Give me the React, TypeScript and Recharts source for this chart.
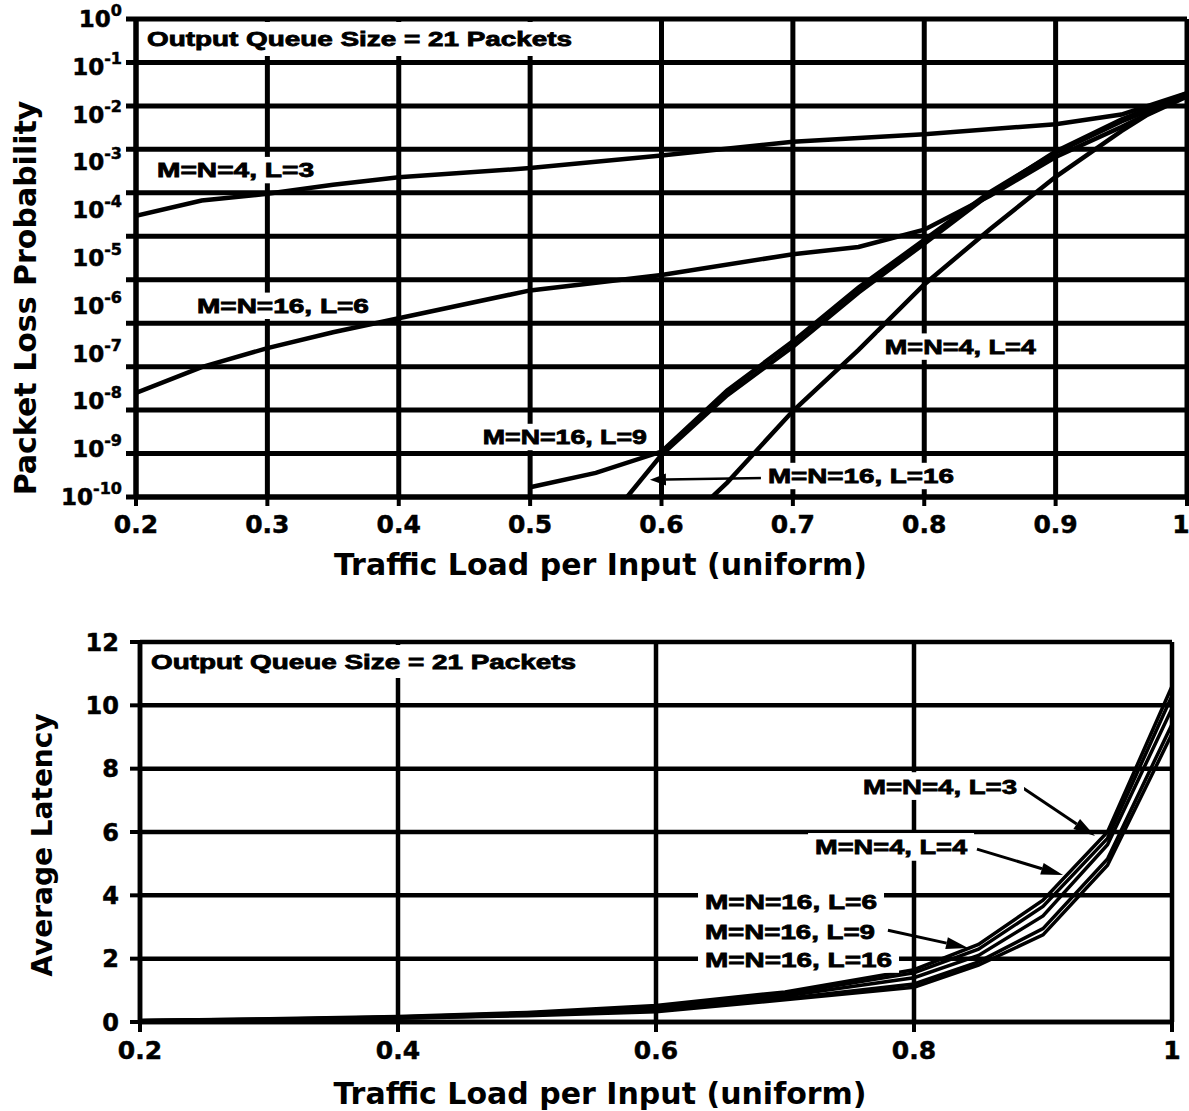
import React from 'react'
import { LineChart, Line, XAxis, YAxis, CartesianGrid, ReferenceDot, ReferenceLine } from 'recharts'

const topLoadTicks = [0.2, 0.3, 0.4, 0.5, 0.6, 0.7, 0.8, 0.9, 1]
const bottomLoadTicks = [0.2, 0.4, 0.6, 0.8, 1]
const lossTicks = [1, 1e-1, 1e-2, 1e-3, 1e-4, 1e-5, 1e-6, 1e-7, 1e-8, 1e-9, 1e-10]
const lossGridRows = [0, 1, 2, 3, 4, 5, 6, 7, 8, 9, 10, 11]
const latencyTicks = [0, 2, 4, 6, 8, 10, 12]

// packet loss probability (top panel)
const loss4x3Load = [0.2, 0.25, 0.3, 0.35, 0.4, 0.5, 0.6, 0.7, 0.8, 0.9, 0.95, 1]
const loss4x3 = [7.6e-5, 1.6e-4, 2.2e-4, 3.4e-4, 4.9e-4, 7.6e-4, 1.4e-3, 2.7e-3, 3.9e-3, 6.3e-3, 1.0e-2, 2.8e-2]
const loss16x6Load = [0.2, 0.25, 0.3, 0.35, 0.4, 0.5, 0.6, 0.7, 0.75, 0.8, 0.85, 0.9, 0.95, 1]
const loss16x6 = [1.5e-8, 5.2e-8, 1.3e-7, 2.8e-7, 5.5e-7, 2.1e-6, 4.4e-6, 1.2e-5, 1.7e-5, 3.9e-5, 2.0e-4, 1.3e-3, 5.5e-3, 2.6e-2]
const loss16x9Load = [0.5, 0.55, 0.6, 0.65, 0.7, 0.75, 0.8, 0.85, 0.9, 0.95, 1]
const loss16x9 = [1.6e-10, 3.2e-10, 8.9e-10, 1.7e-8, 1.8e-7, 2.4e-6, 2.4e-5, 2.4e-4, 1.6e-3, 7.2e-3, 2.6e-2]
const loss16x16Load = [0.55, 0.6, 0.65, 0.7, 0.75, 0.8, 0.85, 0.9, 0.95, 1]
const loss16x16 = [1.6e-11, 7.6e-10, 1.35e-8, 1.4e-7, 1.9e-6, 2.0e-5, 2.2e-4, 1.7e-3, 7.9e-3, 2.8e-2]
const loss4x4Load = [0.6, 0.65, 0.7, 0.75, 0.8, 0.85, 0.9, 0.95, 0.97, 1]
const loss4x4 = [1.0e-11, 2.0e-10, 6.3e-9, 1.2e-7, 2.8e-6, 4.0e-5, 5.0e-4, 4.5e-3, 1.0e-2, 2.4e-2]

// average latency (bottom panel)
const latencyLoad = [0.2, 0.3, 0.4, 0.5, 0.6, 0.7, 0.8, 0.85, 0.9, 0.95, 1]
const latency4x3 = [0.05, 0.1, 0.17, 0.3, 0.52, 0.95, 1.65, 2.45, 3.85, 6.0, 10.6]
const latency4x4 = [0.05, 0.09, 0.16, 0.28, 0.48, 0.88, 1.55, 2.3, 3.65, 5.8, 10.3]
const latency16x6 = [0.04, 0.08, 0.15, 0.26, 0.44, 0.82, 1.4, 2.1, 3.35, 5.6, 9.9]
const latency16x9 = [0.04, 0.07, 0.13, 0.22, 0.36, 0.74, 1.2, 1.9, 2.95, 5.15, 9.4]
const latency16x16 = [0.03, 0.06, 0.12, 0.2, 0.32, 0.7, 1.1, 1.8, 2.75, 4.95, 9.1]

const toPoints = (xs: number[], vs: number[]) => xs.map((x, i) => ({ x, v: vs[i] }))

const lossSeries = [
  { name: 'M=N=4, L=3', points: toPoints(loss4x3Load, loss4x3) },
  { name: 'M=N=16, L=6', points: toPoints(loss16x6Load, loss16x6) },
  { name: 'M=N=16, L=9', points: toPoints(loss16x9Load, loss16x9) },
  { name: 'M=N=16, L=16', points: toPoints(loss16x16Load, loss16x16) },
  { name: 'M=N=4, L=4', points: toPoints(loss4x4Load, loss4x4) },
]

const latencySeries = [
  { name: 'M=N=4, L=3', points: toPoints(latencyLoad, latency4x3) },
  { name: 'M=N=4, L=4', points: toPoints(latencyLoad, latency4x4) },
  { name: 'M=N=16, L=6', points: toPoints(latencyLoad, latency16x6) },
  { name: 'M=N=16, L=9', points: toPoints(latencyLoad, latency16x9) },
  { name: 'M=N=16, L=16', points: toPoints(latencyLoad, latency16x16) },
]

// curve labels, anchored at the left/middle of the text in data units
const lossNotes = [
  { text: 'M=N=4, L=3', x: 0.216, y: 6.9e-4, w: 157 },
  { text: 'M=N=16, L=6', x: 0.2464, y: 1e-6, w: 172 },
  { text: 'M=N=4, L=4', x: 0.77, y: 1.4e-7, w: 151 },
  { text: 'M=N=16, L=9', x: 0.464, y: 1.8e-9, w: 164 },
  { text: 'M=N=16, L=16', x: 0.681, y: 2.75e-10, w: 186 },
]
const lossArrows = [{ x1: 0.6795, y1: 2.5e-10, x2: 0.5912, y2: 2.3e-10 }]

const latencyNotes = [
  { text: 'M=N=4, L=3', x: 0.7605, y: 7.45, w: 154 },
  { text: 'M=N=4, L=4', x: 0.7233, y: 5.53, w: 152 },
  { text: 'M=N=16, L=6', x: 0.638, y: 3.82, w: 172 },
  { text: 'M=N=16, L=9', x: 0.638, y: 2.87, w: 170 },
  { text: 'M=N=16, L=16', x: 0.638, y: 1.99, w: 187 },
]
const latencyArrows = [
  { x1: 0.8845, y1: 7.39, x2: 0.9403, y2: 5.87 },
  { x1: 0.8488, y1: 5.46, x2: 0.9155, y2: 4.64 },
  { x1: 0.7798, y1: 2.9, x2: 0.8419, y2: 2.34 },
]

const AXIS_FONT = '"DejaVu Sans", Verdana, sans-serif'
const NOTE_FONT = '"Liberation Sans", Arial, sans-serif'

const fmtLoad = (v: number) => (v === 1 ? '1' : v.toFixed(1))

function LoadTick({ x, y, payload, size, endShift = 0 }: any) {
  const shift = payload.value === 1 ? endShift : 0
  return (
    <text x={x + shift} y={y} dy={size * 0.74} textAnchor="middle" fontFamily={AXIS_FONT} fontWeight="bold"
      fontSize={size} fill="#000" stroke="#000" strokeWidth={0.5}>
      {fmtLoad(payload.value)}
    </text>
  )
}

function PowerTick({ x, y, payload }: any) {
  const exp = Math.round(Math.log10(payload.value))
  return (
    <text x={x} y={y} dy={8} textAnchor="end" fontFamily={AXIS_FONT} fontWeight="bold" fontSize={23} fill="#000"
      stroke="#000" strokeWidth={0.5}>
      <tspan>10</tspan>
      <tspan dy={-11} fontSize={16}>{exp === 0 ? '0' : `-${-exp}`}</tspan>
    </text>
  )
}

function AxisTitle({ viewBox, text, dx = 0, dy = 0, vertical = false, size = 30 }: any) {
  const cx = viewBox.x + viewBox.width / 2 + dx
  const cy = viewBox.y + viewBox.height / 2 + dy
  return (
    <text
      x={cx}
      y={cy}
      transform={vertical ? `rotate(-90 ${cx} ${cy})` : undefined}
      textAnchor="middle"
      dominantBaseline="central"
      fontFamily={AXIS_FONT}
      fontWeight="bold"
      fontSize={size}
      fill="#000"
    >
      {text}
    </text>
  )
}

function Note({ viewBox, text, width, size }: any) {
  const { x, y } = viewBox
  return (
    <g>
      <rect x={x - 7} y={y - size * 0.66} width={width + 14} height={size * 1.32} fill="#fff" />
      <text x={x} y={y} dy={size * 0.36} fontFamily={NOTE_FONT} fontWeight={900} fontSize={size}
        textLength={width} lengthAdjust="spacingAndGlyphs" fill="#000" stroke="#000" strokeWidth={0.8}>
        {text}
      </text>
    </g>
  )
}

function QueueTitle({ viewBox, boxW, boxH }: any) {
  const { x, y } = viewBox
  return (
    <g>
      <rect x={x + 3} y={y + 3} width={boxW} height={boxH} fill="#fff" />
      <text x={x + 11} y={y + 3 + boxH / 2} dy={7} fontFamily={NOTE_FONT} fontWeight={900} fontSize={20}
        textLength={425} lengthAdjust="spacingAndGlyphs" fill="#000" stroke="#000" strokeWidth={0.8}>
        Output Queue Size = 21 Packets
      </text>
    </g>
  )
}

const arrowShape = (head: number, half: number, w: number) => (p: any) => {
  const { x1, y1, x2, y2 } = p
  const a = Math.atan2(y2 - y1, x2 - x1)
  const bx = x2 - head * Math.cos(a)
  const by = y2 - head * Math.sin(a)
  const pts = `${x2},${y2} ${bx - half * Math.sin(a)},${by + half * Math.cos(a)} ${bx + half * Math.sin(a)},${by - half * Math.cos(a)}`
  return (
    <g>
      <line x1={x1} y1={y1} x2={bx} y2={by} stroke="#000" strokeWidth={w} />
      <polygon points={pts} fill="#000" />
    </g>
  )
}

// the loss panel has 12 evenly spaced rows, with short stubs left of the axis
const lossRowCoords = ({ offset }: any) =>
  lossGridRows.map((i) => offset.top + (offset.height * i) / (lossGridRows.length - 1))

const lossRowLine = (p: any) => (
  <line key={`row-${p.index}`} x1={p.x1 - 10} y1={p.y1} x2={p.x2} y2={p.y2} stroke="#000" strokeWidth={5} />
)

const blackLine = (w: number) => ({ stroke: '#000', strokeWidth: w })
const tickFont = (size: number) => ({
  fill: '#000', stroke: '#000', strokeWidth: 0.5, fontSize: size, fontWeight: 'bold', fontFamily: AXIS_FONT,
})

function LossChart() {
  return (
    <LineChart width={1189} height={600} margin={{ top: 19, right: 2, bottom: 0, left: 0 }}>
      <CartesianGrid stroke="#000" strokeWidth={5} horizontal={lossRowLine}
        horizontalCoordinatesGenerator={lossRowCoords} />
      <XAxis dataKey="x" type="number" domain={[0.2, 1]} ticks={topLoadTicks} interval={0} allowDataOverflow
        height={103} axisLine={blackLine(5)} tickLine={blackLine(4)} tickSize={9} tickMargin={8}
        tick={<LoadTick size={25} endShift={-6} />}
        label={<AxisTitle text="Traffic Load per Input (uniform)" dx={-61} dy={16} />} />
      <YAxis type="number" scale="log" domain={[1e-10, 1]} allowDataOverflow ticks={lossTicks} interval={0}
        width={136} axisLine={blackLine(5)} tickLine={false} tickSize={8} tickMargin={6} tick={<PowerTick />}
        label={<AxisTitle text="Packet Loss Probability" vertical dx={-43} dy={40} />} />
      <ReferenceDot x={0.2} y={1} r={0} fill="none" stroke="none" ifOverflow="visible"
        label={<QueueTitle boxW={440} boxH={34} />} />
      {lossSeries.map((s) => (
        <Line key={s.name} data={s.points} dataKey="v" name={s.name} type="linear" stroke="#000" strokeWidth={4.5}
          dot={false} activeDot={false} isAnimationActive={false} />
      ))}
      {lossArrows.map((a, i) => (
        <ReferenceLine key={i} segment={[{ x: a.x1, y: a.y1 }, { x: a.x2, y: a.y2 }]} ifOverflow="visible"
          shape={arrowShape(16, 6, 2.5)} />
      ))}
      {lossNotes.map((n) => (
        <ReferenceDot key={n.text} x={n.x} y={n.y} r={0} fill="none" stroke="none" ifOverflow="visible"
          label={<Note text={n.text} width={n.w} size={20} />} />
      ))}
    </LineChart>
  )
}

function LatencyChart() {
  return (
    <LineChart width={1189} height={531} margin={{ top: 62, right: 17, bottom: 0, left: 0 }}>
      <CartesianGrid stroke="#000" strokeWidth={4.5} />
      <XAxis dataKey="x" type="number" domain={[0.2, 1]} ticks={bottomLoadTicks} interval={0} allowDataOverflow
        height={89} axisLine={blackLine(4.5)} tickLine={blackLine(4)} tickSize={10} tickMargin={8}
        tick={<LoadTick size={25} />}
        label={<AxisTitle text="Traffic Load per Input (uniform)" dx={-56} dy={27} />} />
      <YAxis type="number" domain={[0, 12]} ticks={latencyTicks} interval={0} allowDataOverflow width={140}
        axisLine={blackLine(4.5)} tickLine={blackLine(4)} tickSize={10} tickMargin={11} tick={tickFont(24)}
        label={<AxisTitle text="Average Latency" vertical dx={-28} dy={13} size={28} />} />
      <ReferenceDot x={0.2} y={12} r={0} fill="none" stroke="none" ifOverflow="visible"
        label={<QueueTitle boxW={442} boxH={33} />} />
      {latencySeries.map((s) => (
        <Line key={s.name} data={s.points} dataKey="v" name={s.name} type="linear" stroke="#000" strokeWidth={3.5}
          dot={false} activeDot={false} isAnimationActive={false} />
      ))}
      {latencyArrows.map((a, i) => (
        <ReferenceLine key={i} segment={[{ x: a.x1, y: a.y1 }, { x: a.x2, y: a.y2 }]} ifOverflow="visible"
          shape={arrowShape(22, 6, 3)} />
      ))}
      {latencyNotes.map((n) => (
        <ReferenceDot key={n.text} x={n.x} y={n.y} r={0} fill="none" stroke="none" ifOverflow="visible"
          label={<Note text={n.text} width={n.w} size={21} />} />
      ))}
    </LineChart>
  )
}

export default function App() {
  return (
    <div style={{ position: 'absolute', left: 0, top: 0, width: 1189, height: 1111, background: '#fff' }}>
      <div style={{ position: 'absolute', left: 0, top: 0 }}>
        <LossChart />
      </div>
      <div style={{ position: 'absolute', left: 0, top: 580 }}>
        <LatencyChart />
      </div>
    </div>
  )
}
